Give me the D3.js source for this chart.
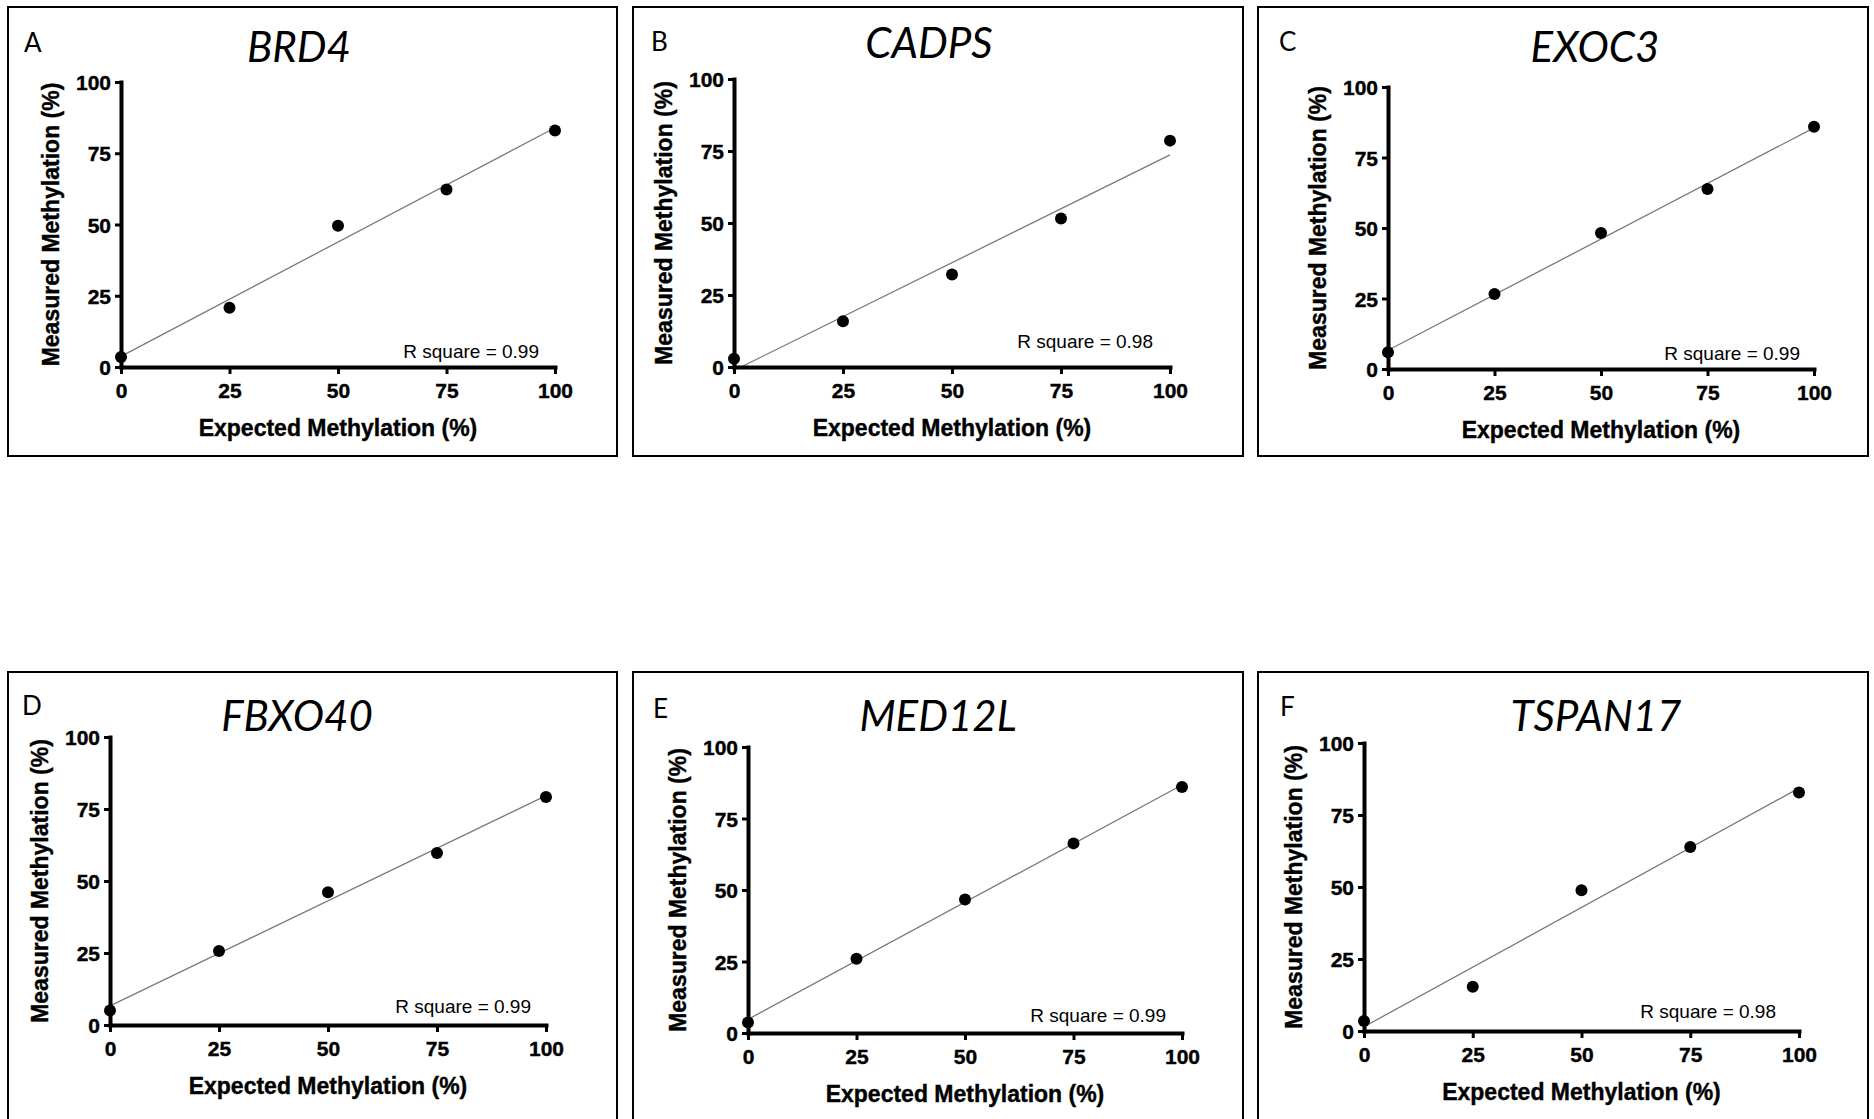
<!DOCTYPE html>
<html>
<head>
<meta charset="utf-8">
<script src="https://cdn.jsdelivr.net/npm/d3@7"></script>
<style>
  body { margin: 0; background: #fff; }
  .tick text { font-family: "Liberation Sans", Arial, sans-serif; font-weight: bold; font-size: 21px; fill: #000; stroke: #000; stroke-width: 0.4px; }
  .axisTitle { font-family: "Liberation Sans", Arial, sans-serif; font-weight: bold; font-size: 23px; stroke: #000; stroke-width: 0.4px; }
  .rsq { font-family: "Liberation Sans", Arial, sans-serif; font-size: 19px; }
  .gene { font-family: Lato, "Open Sans", sans-serif; font-style: italic; font-size: 42px; }
  .letter { font-family: Lato, "Open Sans", sans-serif; font-size: 26px; }
</style>
</head>
<body>
<div id="chart"></div>
<script>
// values
let letters = ['A', 'B', 'C', 'D', 'E', 'F'];
let genes = ['BRD4', 'CADPS', 'EXOC3', 'FBXO40', 'MED12L', 'TSPAN17'];
let expected = [0, 25, 50, 75, 100];
let measuredBRD4 = [3.5, 20.8, 49.6, 62.3, 83.0];
let measuredCADPS = [2.9, 15.9, 32.1, 51.6, 78.6];
let measuredEXOC3 = [5.9, 26.6, 48.2, 63.8, 85.9];
let measuredFBXO40 = [5.0, 25.7, 46.1, 59.7, 79.2];
let measuredMED12L = [3.7, 26.0, 46.7, 66.3, 86.0];
let measuredTSPAN17 = [3.5, 15.4, 48.9, 63.9, 82.8];
let rSquare = ['0.99', '0.98', '0.99', '0.99', '0.99', '0.98'];
let tickValues = [0, 25, 50, 75, 100];

let measured = [measuredBRD4, measuredCADPS, measuredEXOC3, measuredFBXO40, measuredMED12L, measuredTSPAN17];

// panel placement (box, plot area, title, R square label)
let layout = [
    {box: [8, 7, 609, 449],   plot: [121, 555, 82, 367],    title: [299, 62],   letter: [24, 52],   rsq: [539, 358]},
    {box: [633, 7, 610, 449], plot: [734, 1170, 79, 367],   title: [929, 58],   letter: [651, 51],  rsq: [1153, 348]},
    {box: [1258, 7, 610, 449],plot: [1388, 1814, 87, 369],  title: [1595, 62],  letter: [1279, 51], rsq: [1800, 360]},
    {box: [8, 672, 609, 460], plot: [110, 546, 737, 1025],  title: [297, 731],  letter: [22, 715],  rsq: [531, 1013]},
    {box: [633, 672, 610, 460],plot: [748, 1182, 747, 1033],title: [938, 731],  letter: [653, 718], rsq: [1166, 1022]},
    {box: [1258, 672, 610, 460],plot: [1364, 1799, 743, 1031],title: [1596, 731],letter: [1280, 716], rsq: [1776, 1018]}
];

let svg = d3.select('#chart').append('svg')
    .attr('width', 1874)
    .attr('height', 1119);

svg.append('rect').attr('width', 1874).attr('height', 1119).attr('fill', '#fff');

// least squares fit
function fit(xs, ys) {
    let mx = d3.mean(xs), my = d3.mean(ys);
    let num = d3.sum(xs, (x, i) => (x - mx) * (ys[i] - my));
    let den = d3.sum(xs, x => (x - mx) * (x - mx));
    let slope = num / den;
    return {slope: slope, intercept: my - slope * mx};
}

genes.forEach(function(gene, i) {
    let L = layout[i];
    let g = svg.append('g');

    g.append('rect')
        .attr('x', L.box[0]).attr('y', L.box[1])
        .attr('width', L.box[2]).attr('height', L.box[3])
        .attr('fill', 'none').attr('stroke', '#000').attr('stroke-width', 2);

    g.append('text').classed('letter', true)
        .attr('x', L.letter[0]).attr('y', L.letter[1])
        .text(letters[i]);

    g.append('text').classed('gene', true)
        .attr('x', L.title[0]).attr('y', L.title[1])
        .attr('text-anchor', 'middle')
        .text(gene);

    let x = d3.scaleLinear().domain([0, 100]).range([L.plot[0], L.plot[1]]);
    let y = d3.scaleLinear().domain([0, 100]).range([L.plot[3], L.plot[2]]);

    // regression line, clipped at y = 0
    let f = fit(expected, measured[i]);
    let x0 = f.intercept < 0 ? -f.intercept / f.slope : 0;
    g.append('line')
        .attr('x1', x(x0)).attr('y1', y(f.slope * x0 + f.intercept))
        .attr('x2', x(100)).attr('y2', y(f.slope * 100 + f.intercept))
        .attr('stroke', '#7a7a7a').attr('stroke-width', 1.3);

    let xAxis = g.append('g')
        .attr('transform', `translate(0, ${L.plot[3]})`)
        .call(d3.axisBottom(x).tickValues(tickValues).tickSize(7).tickSizeOuter(0).tickPadding(9));
    let yAxis = g.append('g')
        .attr('transform', `translate(${L.plot[0]}, 0)`)
        .call(d3.axisLeft(y).tickValues(tickValues).tickSize(6).tickSizeOuter(0).tickPadding(4));

    [xAxis, yAxis].forEach(function(ax) {
        ax.attr('font-family', null).attr('font-size', null);
        ax.select('.domain').attr('stroke', '#000').attr('stroke-width', 4).attr('stroke-linecap', 'square');
        ax.selectAll('.tick line').attr('stroke', '#000').attr('stroke-width', 3);
    });
    yAxis.selectAll('.tick text').attr('dy', '0.36em');

    g.selectAll('circle')
        .data(expected)
        .enter()
        .append('circle')
        .attr('cx', d => x(d))
        .attr('cy', (d, j) => y(measured[i][j]))
        .attr('r', 6)
        .attr('fill', '#000');

    g.append('text').classed('rsq', true)
        .attr('x', L.rsq[0]).attr('y', L.rsq[1])
        .attr('text-anchor', 'end')
        .text(`R square = ${rSquare[i]}`);

    g.append('text').classed('axisTitle', true)
        .attr('x', (L.plot[0] + L.plot[1]) / 2)
        .attr('y', L.plot[3] + 69)
        .attr('text-anchor', 'middle')
        .text('Expected Methylation (%)');

    g.append('text').classed('axisTitle', true)
        .attr('transform', `translate(${L.plot[0] - 62}, ${(L.plot[2] + L.plot[3]) / 2}) rotate(-90)`)
        .attr('text-anchor', 'middle')
        .text('Measured Methylation (%)');
});
</script>
</body>
</html>
